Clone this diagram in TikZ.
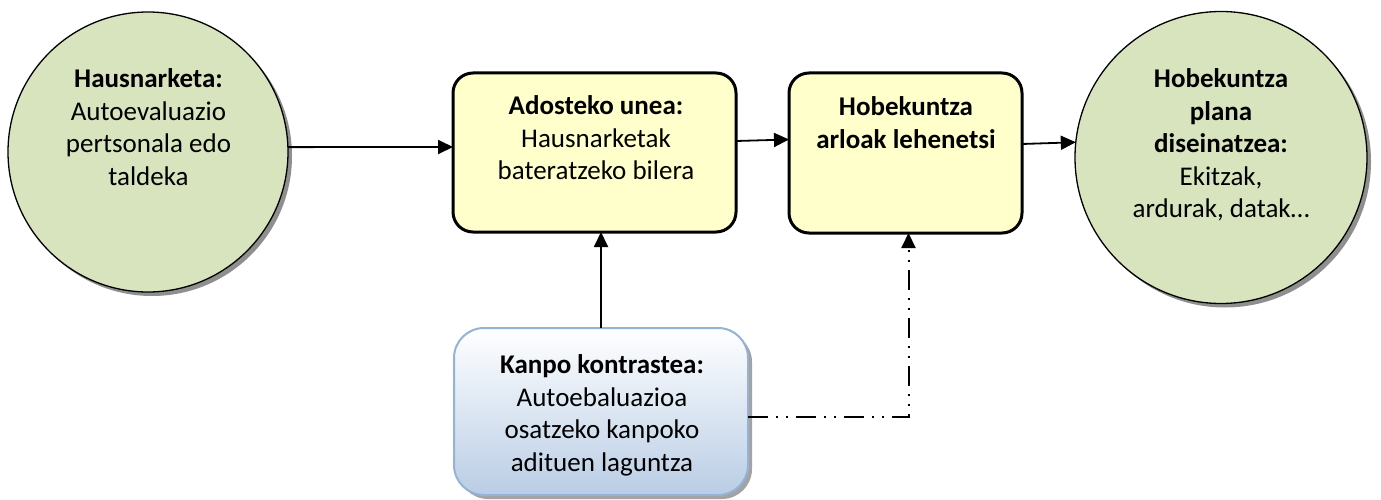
\documentclass[tikz,border=0pt]{standalone}
\usepackage{fontspec}
\setmainfont{Carlito}
\usetikzlibrary{arrows.meta,shadows,shapes.geometric}
\definecolor{circfill}{HTML}{D7E4BD}
\definecolor{boxfill}{HTML}{FFFFCC}
\definecolor{blueedge}{HTML}{95B3D7}
\definecolor{bluebot}{HTML}{B9CDE5}
\tikzset{
  circ/.style={circle,draw=black,line width=1.3pt,fill=circfill,inner sep=0pt,outer sep=0pt,
    drop shadow={shadow xshift=4pt,shadow yshift=-4pt,fill=black!55,opacity=0.8}},
  ybox/.style={rectangle,rounded corners=20pt,draw=black,line width=3pt,fill=boxfill,inner sep=0pt,outer sep=0pt},
  bbox/.style={rectangle,rounded corners=30pt,draw=blueedge,line width=2pt,top color=white,bottom color=bluebot,inner sep=0pt,outer sep=0pt,
    drop shadow={shadow xshift=4pt,shadow yshift=-4pt,fill=black!45,opacity=0.8}},
  txt/.style={align=center,inner sep=0pt,font=\fontsize{27}{32.5}\selectfont,anchor=north},
  arr/.style={-{Triangle[length=15pt,width=14pt]},line width=1.8pt,black},
  dda/.style={-{Triangle[length=15pt,width=14pt]},line width=2pt,black,
    dash pattern=on 20pt off 8pt on 2pt off 8pt on 2pt off 8pt},
}
\begin{document}
\begin{tikzpicture}[x=1pt,y=-1pt]
\useasboundingbox (0,0) rectangle (1381,500);
% shapes
\node[circ,minimum size=280pt] (c1) at (148,152) {};
\node[circ,minimum size=292pt] (c2) at (1221,157.5) {};
\node[ybox,minimum width=283pt,minimum height=159pt] (b1) at (594.5,152.5) {};
\node[ybox,minimum width=233pt,minimum height=160pt] (b2) at (905.5,153) {};
\node[bbox,minimum width=294pt,minimum height=167pt] (bl) at (601,411.5) {};
% texts
\node[txt] (t1) at (148.5,68.5) {\textbf{Hausnarketa:}\\Autoevaluazio\\pertsonala edo\\taldeka};
\node[txt] (t2) at (596,95.5) {\textbf{Adosteko unea:}\\Hausnarketak\\bateratzeko bilera};
\node[txt] (t3) at (906,96.5) {\textbf{Hobekuntza}\\\textbf{arloak lehenetsi}};
\node[txt] (t4) at (1221,68.5) {\textbf{Hobekuntza}\\\textbf{plana}\\\textbf{diseinatzea:}\\Ekitzak,\\ardurak, datak…};
\node[txt] (t5) at (602,354.5) {\textbf{Kanpo kontrastea:}\\Autoebaluazioa\\osatzeko kanpoko\\adituen laguntza};
% connectors
\draw[arr] (c1.2) -- ([yshift=5.5pt]b1.west);
\draw[arr] ([yshift=11.5pt]b1.east) -- ([yshift=13.5pt]b2.west);
\draw[arr] ([yshift=9pt]b2.east) -- (c2.174.7);
\draw[arr] (bl.north) -- (bl.north |- b1.south);
\coordinate (start) at ([yshift=-5.5pt]bl.east);
\coordinate (top) at ([xshift=3pt]b2.south);
\coordinate (corner) at (top |- start);
\draw[dda] (start) -- (corner) -- (top);
\end{tikzpicture}
\end{document}
